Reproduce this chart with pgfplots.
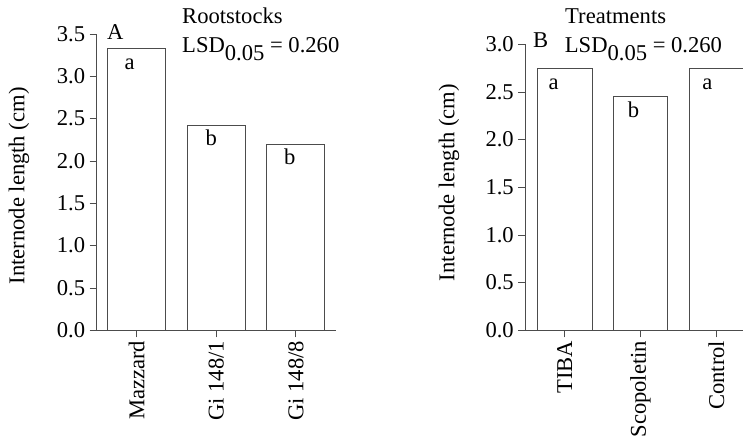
\documentclass[border=0pt]{standalone}
\usepackage{fontspec}
\setmainfont{Liberation Serif}
\usepackage{pgfplots}
\pgfplotsset{compat=1.18}
\newcommand{\fs}{\fontsize{22.6}{26}\selectfont}
\pgfplotsset{
  myax/.style={
    scale only axis,
    axis lines=left,
    axis line style={-, draw=black!70, line width=0.9pt},
    every tick/.style={draw=black!70, line width=0.9pt},
    tick align=outside,
    major tick length=7pt,
    ymin=0,
    xtick={0,1,2},
    ytick pos=left, xtick pos=left,
    ybar, bar width=#1,
    yticklabel={\pgfmathprintnumber[fixed,fixed zerofill,precision=1,assume math mode=true]{\tick}},
    ticklabel style={font=\fs},
    yticklabel style={xshift=-1pt},
    xticklabel style={rotate=90, anchor=east},
    clip=false,
  },
  mybar/.style={fill=white, draw=black!70, line width=0.9pt},
}
\begin{document}
\begin{tikzpicture}
\useasboundingbox (0pt,0pt) rectangle (743pt,441pt);
\begin{axis}[myax=0.73,
  at={(96.7pt,110.7pt)}, anchor=south west,
  width=239pt, height=296.3pt,
  xmin=-0.5, xmax=2.5, ymax=3.5,
  ytick={0,0.5,1,1.5,2,2.5,3,3.5},
  xticklabels={Mazzard, Gi 148/1, Gi 148/8},
]
\addplot[mybar] coordinates {(0,3.325) (1,2.415) (2,2.20)};
\node[font=\fs, anchor=base, xshift=-7pt, yshift=-21pt] at (axis cs:0,3.325) {a};
\node[font=\fs, anchor=base, xshift=-5pt, yshift=-20pt] at (axis cs:1,2.415) {b};
\node[font=\fs, anchor=base, xshift=-6pt, yshift=-20pt] at (axis cs:2,2.20) {b};
\end{axis}
\begin{axis}[myax=0.72,
  at={(525.3pt,110.7pt)}, anchor=south west,
  width=219.1pt, height=286pt,
  xmin=-0.52, xmax=2.37, ymax=3.0,
  ytick={0,0.5,1,1.5,2,2.5,3},
  xticklabels={TIBA, Scopoletin, Control},
]
\addplot[mybar] coordinates {(0,2.75) (1,2.45) (2,2.75)};
\node[font=\fs, anchor=base, xshift=-11pt, yshift=-21pt] at (axis cs:0,2.75) {a};
\node[font=\fs, anchor=base, xshift=-7pt, yshift=-21pt] at (axis cs:1,2.45) {b};
\node[font=\fs, anchor=base, xshift=-9pt, yshift=-21pt] at (axis cs:2,2.75) {a};
\end{axis}
\node[font=\fs, rotate=90, anchor=center, inner sep=0pt] at (19pt,255pt) {Internode length (cm)};
\node[font=\fs, rotate=90, anchor=center, inner sep=0pt] at (449pt,258.5pt) {Internode length (cm)};
\node[font=\fs, anchor=base west, inner sep=0pt] at (107pt,401.7pt) {A};
\node[font=\fs, anchor=base west, inner sep=0pt] at (182pt,417.7pt) {Rootstocks};
\node[font=\fs, anchor=base west, inner sep=0pt] at (182pt,388.3pt) {LSD\raisebox{-8pt}{0.05} = 0.260};
\node[font=\fs, anchor=base west, inner sep=0pt] at (533pt,393.3pt) {B};
\node[font=\fs, anchor=base west, inner sep=0pt] at (565pt,417.7pt) {Treatments};
\node[font=\fs, anchor=base west, inner sep=0pt] at (564.7pt,388.3pt) {LSD\raisebox{-8pt}{0.05} = 0.260};
\end{tikzpicture}
\end{document}
